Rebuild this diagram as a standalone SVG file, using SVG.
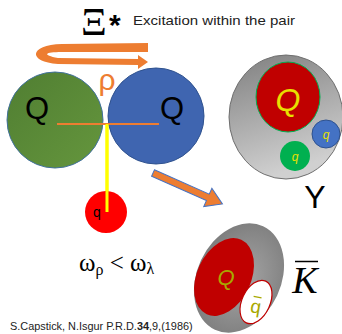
<svg xmlns="http://www.w3.org/2000/svg" width="342" height="334" viewBox="0 0 342 334">
<defs>
<linearGradient id="gY" x1="0" y1="0" x2="0.3" y2="1">
<stop offset="0" stop-color="#7f7f7f"/>
<stop offset="1" stop-color="#d0d0d0"/>
</linearGradient>
<radialGradient id="gK" cx="0.55" cy="0.5" r="0.6">
<stop offset="0" stop-color="#a6a6a6"/>
<stop offset="1" stop-color="#7a7a7a"/>
</radialGradient>
<linearGradient id="gG" x1="0" y1="0" x2="1" y2="1">
<stop offset="0" stop-color="#507e32"/>
<stop offset="1" stop-color="#65963d"/>
</linearGradient>
<style>
.sans{font-family:"Liberation Sans","Open Sans",sans-serif}
.serif{font-family:"Liberation Serif","DejaVu Serif",serif}
.orange{fill:#ed7d31}
</style>
</defs>
<rect width="342" height="334" fill="#ffffff"/>
<g id="title">
<text x="81" y="35" class="serif" font-size="40">Ξ</text>
<text x="109" y="35" class="sans" font-size="30" font-weight="bold">*</text>
<text x="133" y="25" class="sans" font-size="13" fill="#222" textLength="162" lengthAdjust="spacingAndGlyphs">Excitation within the pair</text>
</g>
<g id="rotation-arrow">
<path class="orange" d="M148,43 L148,52 L62,52 C44,52 42,55 58,58 L138,59 L138,55 L148,62 L138,69 L138,65 L58,64 C28,62 28,45 62,44 Z"/>
</g>
<g id="rho"><text x="107" y="90" class="sans" font-size="30" fill="#ed7d31" text-anchor="middle">ρ</text></g>
<g id="connectors">
<line x1="57" y1="124" x2="159" y2="124" stroke="#ed7d31" stroke-width="2"/>
<line x1="107" y1="124" x2="107" y2="212" stroke="#ffff00" stroke-width="3"/>
<path d="M0,-3.5 L60,-3.5 L60,-10 L76,0 L60,10 L60,3.5 L0,3.5 Z" fill="#ed7d31" stroke="#4472c4" stroke-width="1" transform="translate(153,173) rotate(24)"/>
</g>
<g id="Q-green">
<circle cx="55" cy="120" r="48" fill="url(#gG)" stroke="#41719c" stroke-width="1"/>
<text x="37" y="119" class="sans" font-size="31" text-anchor="middle">Q</text>
</g>
<g id="Q-blue">
<circle cx="156" cy="116" r="48" fill="#3f65b0" stroke="#2f528f" stroke-width="1"/>
<text x="172" y="119" class="sans" font-size="31" text-anchor="middle">Q</text>
</g>
<line x1="57" y1="124" x2="159" y2="124" stroke="#ed7d31" stroke-width="2"/>
<line x1="107" y1="124" x2="107" y2="190" stroke="#ffff00" stroke-width="3"/>
<g id="q-red">
<circle cx="106" cy="212" r="21" fill="#ff0000"/>
<line x1="107" y1="190" x2="107" y2="212" stroke="#ffff00" stroke-width="3"/>
<text x="97" y="217" class="sans" font-size="14" text-anchor="middle">q</text>
</g>
<g id="Y-baryon">
<ellipse cx="286" cy="117" rx="57" ry="62" fill="url(#gY)" stroke="#6f6f6f" stroke-width="1"/>
<ellipse cx="288" cy="97" rx="32" ry="35" fill="#c00000" stroke="#00b050" stroke-width="1"/>
<text x="288" y="111" class="sans" font-size="32" font-style="italic" fill="#e8e000" text-anchor="middle">Q</text>
<circle cx="326" cy="134" r="14" fill="#4472c4" stroke="#2f528f" stroke-width="1"/>
<text x="326" y="139" class="sans" font-size="12" font-style="italic" fill="#e8e000" text-anchor="middle">q</text>
<circle cx="295" cy="156" r="15" fill="#00b050"/>
<text x="295" y="161" class="sans" font-size="12" font-style="italic" fill="#e8e000" text-anchor="middle">q</text>
<text x="315" y="208" class="sans" font-size="32" text-anchor="middle">Y</text>
</g>
<g id="Kbar-meson">
<ellipse cx="0" cy="0" rx="42" ry="57" fill="url(#gK)" transform="translate(239,278) rotate(25)"/>
<ellipse cx="0" cy="0" rx="27" ry="41" fill="#c00000" transform="translate(224,277) rotate(25)"/>
<text x="226" y="285" class="sans" font-size="22" font-style="italic" fill="#a8a800" text-anchor="middle">Q</text>
<ellipse cx="0" cy="0" rx="14" ry="23" fill="#ffffff" stroke="#c00000" stroke-width="1.2" transform="translate(256,302) rotate(25)"/>
<g transform="translate(256,306) rotate(10)">
<text x="0" y="7" class="sans" font-size="19" fill="#a8a800" text-anchor="middle">q</text>
<line x1="-4" y1="-9" x2="4" y2="-9" stroke="#a8a800" stroke-width="1.3"/>
</g>
<text x="305" y="293" class="serif" font-size="38" font-style="italic" text-anchor="middle">K</text>
<line x1="295" y1="261.5" x2="318" y2="261.5" stroke="#000" stroke-width="1.5"/>
</g>
<g id="omega">
<text x="79" y="271" class="serif" font-size="25">ω<tspan font-size="16" dy="4">ρ</tspan><tspan dy="-4"> &lt; ω</tspan><tspan font-size="16" dy="3">λ</tspan></text>
</g>
<g id="citation">
<text x="10" y="330" class="sans" font-size="10.9" fill="#222">S.Capstick, N.Isgur P.R.D.<tspan font-weight="bold">34</tspan>,9,(1986)</text>
</g>
</svg>
